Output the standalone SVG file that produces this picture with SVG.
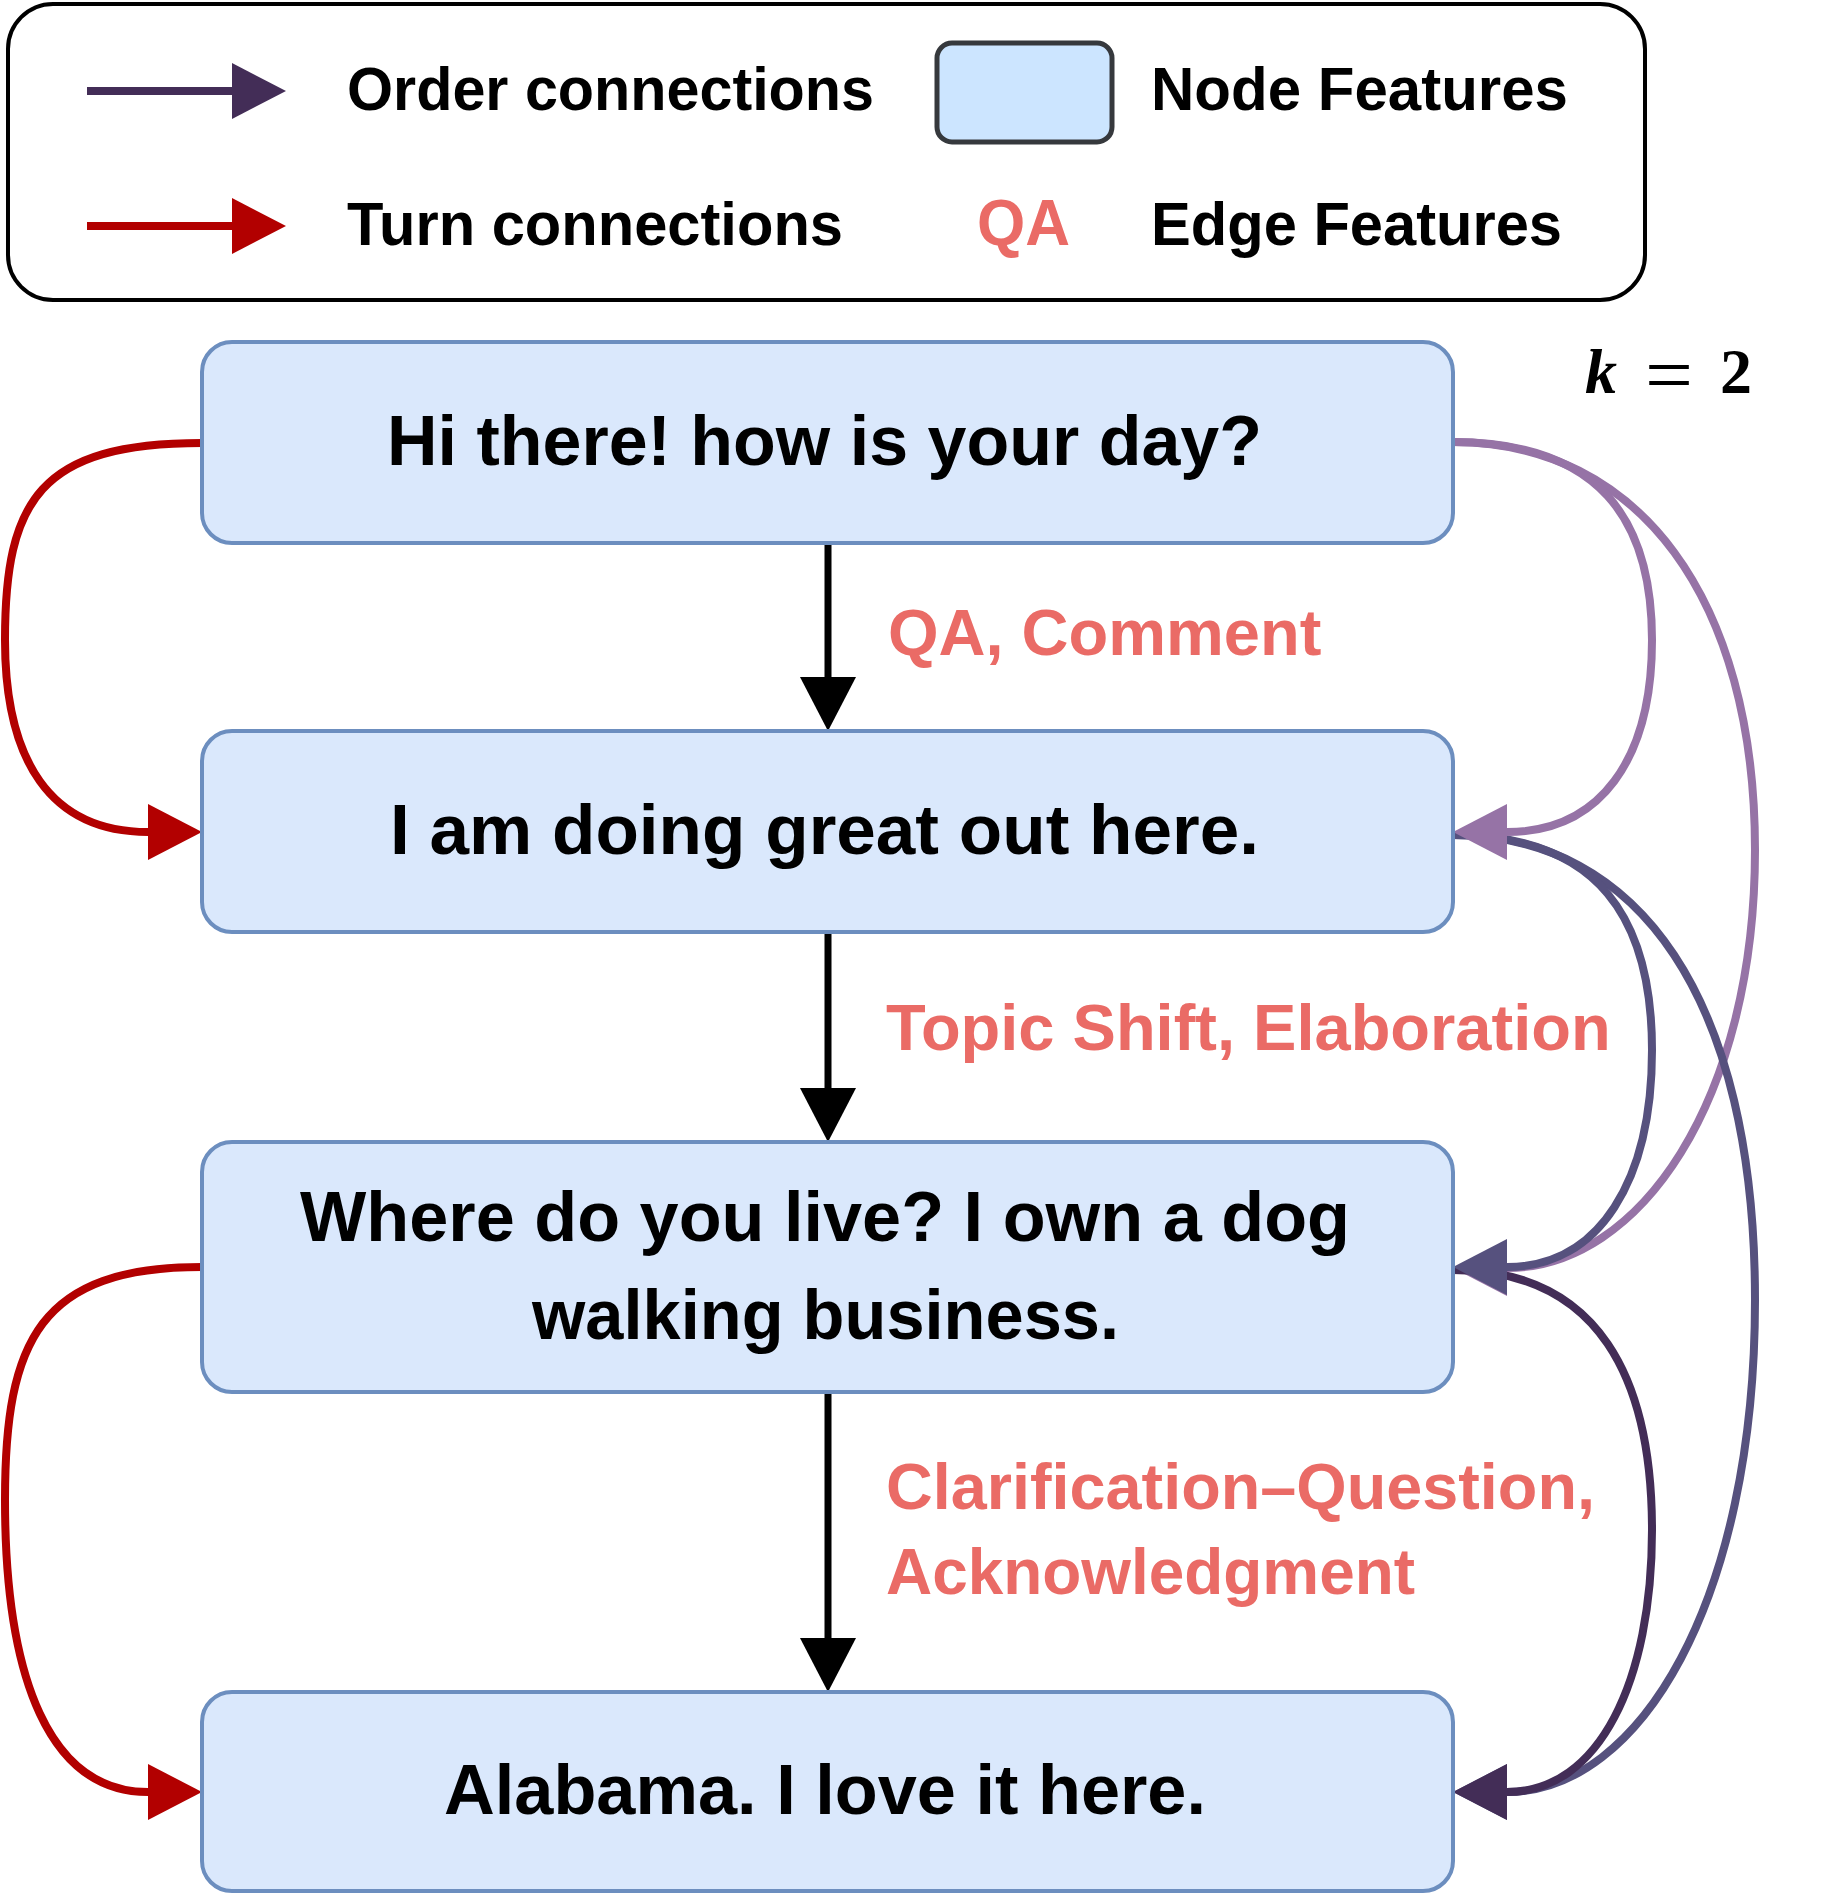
<svg xmlns="http://www.w3.org/2000/svg" width="1825" height="1895" viewBox="0 0 1825 1895">
<style>
  .node { fill: #dae8fc; stroke: #6c8ebf; stroke-width: 4; }
  .ntext { font-family: "Liberation Sans", Arial, sans-serif; font-weight: bold; font-size: 71px; fill: #000; }
  .ltext { font-family: "Liberation Sans", Arial, sans-serif; font-weight: bold; font-size: 62px; fill: #000; }
  .etext { font-family: "Liberation Sans", Arial, sans-serif; font-weight: bold; font-size: 65px; fill: #ea6b66; }
  .conn { fill: none; stroke-width: 7; }
  .turn { stroke: #b20000; stroke-width: 8; }
  .seq { stroke: #000; }
  .c1 { stroke: #9673a6; stroke-width: 8; }
  .c2 { stroke: #56517e; stroke-width: 8; }
  .c3 { stroke: #432d57; stroke-width: 8; }
</style>
<defs>
  <marker id="mBlack" markerUnits="userSpaceOnUse" viewBox="0 0 54 56" markerWidth="54" markerHeight="56" refX="0" refY="28" orient="auto"><path d="M0,0 L54,28 L0,56 z" fill="#000"/></marker>
  <marker id="mRed" markerUnits="userSpaceOnUse" viewBox="0 0 54 56" markerWidth="54" markerHeight="56" refX="0" refY="28" orient="auto"><path d="M0,0 L54,28 L0,56 z" fill="#b20000"/></marker>
  <marker id="mP1" markerUnits="userSpaceOnUse" viewBox="0 0 54 56" markerWidth="54" markerHeight="56" refX="0" refY="28" orient="auto"><path d="M0,0 L54,28 L0,56 z" fill="#9673a6"/></marker>
  <marker id="mP2" markerUnits="userSpaceOnUse" viewBox="0 0 54 56" markerWidth="54" markerHeight="56" refX="0" refY="28" orient="auto"><path d="M0,0 L54,28 L0,56 z" fill="#56517e"/></marker>
  <marker id="mP3" markerUnits="userSpaceOnUse" viewBox="0 0 54 56" markerWidth="54" markerHeight="56" refX="0" refY="28" orient="auto"><path d="M0,0 L54,28 L0,56 z" fill="#432d57"/></marker>
</defs>
<rect width="1825" height="1895" fill="#fff"/>

<g id="legend">
  <rect x="8" y="4" width="1637" height="296" rx="45" fill="#fff" stroke="#000" stroke-width="4"/>
  <path d="M87,91 L232,91" class="conn c3" marker-end="url(#mP3)"/>
  <text x="347" y="110" class="ltext" textLength="527" lengthAdjust="spacingAndGlyphs">Order connections</text>
  <path d="M87,226 L232,226" class="conn turn" marker-end="url(#mRed)"/>
  <text x="347" y="245" class="ltext" textLength="496" lengthAdjust="spacingAndGlyphs">Turn connections</text>
  <rect x="937" y="43" width="175" height="99" rx="15" fill="#cce5ff" stroke="#36393d" stroke-width="5"/>
  <text x="1151" y="110" class="ltext" textLength="417" lengthAdjust="spacingAndGlyphs">Node Features</text>
  <text x="977" y="245" class="etext" font-size="63" textLength="93" lengthAdjust="spacingAndGlyphs">QA</text>
  <text x="1151" y="245" class="ltext" textLength="411" lengthAdjust="spacingAndGlyphs">Edge Features</text>
</g>

<g id="k-label">
  <text y="393" font-family="'Liberation Serif', 'Times New Roman', serif" font-weight="bold" font-size="64" fill="#000"><tspan x="1585" font-style="italic">k</tspan><tspan x="1645" dy="9" font-weight="normal" font-size="80" textLength="48" lengthAdjust="spacingAndGlyphs">=</tspan><tspan x="1720" dy="-9">2</tspan></text>
</g>

<g id="connectors">
  <!-- sequential (black) -->
  <path d="M828,543 L828,677" class="conn seq" marker-end="url(#mBlack)"/>
  <path d="M828,932 L828,1088" class="conn seq" marker-end="url(#mBlack)"/>
  <path d="M828,1392 L828,1638" class="conn seq" marker-end="url(#mBlack)"/>
  <!-- turn connections (red, left) -->
  <path d="M202,443 C40,443 5,500 5,640 C5,760 50,832 148,832" class="conn turn" marker-end="url(#mRed)"/>
  <path d="M202,1267 C40,1267 5,1340 5,1500 C5,1680 50,1792 148,1792" class="conn turn" marker-end="url(#mRed)"/>
  <!-- order connections (right) -->
  <path d="M1453,442 C1640,442 1755,600 1755,850 C1755,1100 1640,1268 1507,1268" class="conn c1" marker-end="url(#mP1)"/>
  <path d="M1453,835 C1640,835 1755,1000 1755,1300 C1755,1600 1640,1792 1507,1792" class="conn c2" marker-end="url(#mP2)"/>
  <path d="M1453,1270 C1600,1270 1652,1380 1652,1530 C1652,1680 1600,1792 1507,1792" class="conn c3" marker-end="url(#mP3)"/>
  <path d="M1453,835 C1600,835 1652,920 1652,1050 C1652,1180 1600,1267 1507,1267" class="conn c2" marker-end="url(#mP2)"/>
  <path d="M1453,442 C1600,442 1652,520 1652,640 C1652,760 1600,832 1507,832" class="conn c1" marker-end="url(#mP1)"/>
</g>

<g id="node1">
  <rect x="202" y="342" width="1251" height="201" rx="30" class="node"/>
  <text x="387" y="465" class="ntext" textLength="875" lengthAdjust="spacingAndGlyphs">Hi there! how is your day?</text>
</g>
<g id="node2">
  <rect x="202" y="731" width="1251" height="201" rx="30" class="node"/>
  <text x="390" y="854" class="ntext" textLength="869" lengthAdjust="spacingAndGlyphs">I am doing great out here.</text>
</g>
<g id="node3">
  <rect x="202" y="1142" width="1251" height="250" rx="30" class="node"/>
  <text x="300" y="1241" class="ntext" textLength="1050" lengthAdjust="spacingAndGlyphs">Where do you live? I own a dog</text>
  <text x="532" y="1339" class="ntext" textLength="587" lengthAdjust="spacingAndGlyphs">walking business.</text>
</g>
<g id="node4">
  <rect x="202" y="1692" width="1251" height="199" rx="30" class="node"/>
  <text x="444" y="1814" class="ntext" textLength="762" lengthAdjust="spacingAndGlyphs">Alabama. I love it here.</text>
</g>

<g id="edge-labels">
  <text x="888" y="655" class="etext">QA, Comment</text>
  <text x="886" y="1050" class="etext">Topic Shift, Elaboration</text>
  <text x="886" y="1509" class="etext" textLength="709" lengthAdjust="spacingAndGlyphs">Clarification–Question,</text>
  <text x="886" y="1594" class="etext" textLength="529" lengthAdjust="spacingAndGlyphs">Acknowledgment</text>
</g>
</svg>
